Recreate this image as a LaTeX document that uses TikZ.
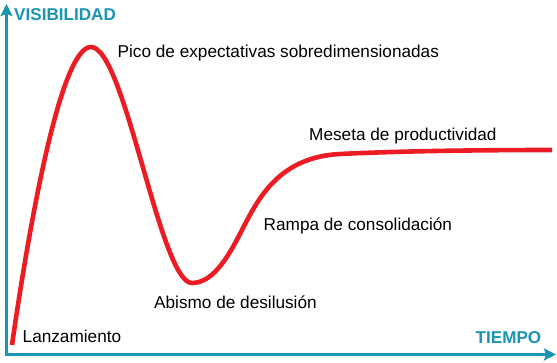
\documentclass[tikz,border=0pt]{standalone}
\usepackage{fontspec}
\setmainfont{Liberation Sans}
\usetikzlibrary{arrows.meta}
\definecolor{axisteal}{HTML}{1A95B1}
\definecolor{hyped}{HTML}{EC1C24}
\tikzset{
  axisline/.style={draw=axisteal, line width=3pt, -{Stealth[length=12pt,width=12pt,inset=2pt]}},
  axislabel/.style={text=axisteal, font=\fontsize{17.1}{19}\selectfont\bfseries, anchor=base west, inner sep=0pt},
  phase/.style={text=black, font=\fontsize{17.2}{19}\selectfont, anchor=base west, inner sep=0pt},
  hype/.style={draw=hyped, line width=4.6pt}
}
\begin{document}
\begin{tikzpicture}[x=1pt,y=-1pt]
\useasboundingbox (0,0) rectangle (557,362);
\coordinate (origin) at (6.5,354.5);
\coordinate (ytip) at (6.5,4);
\coordinate (xtip) at (556,354.5);
\draw[axisline] ([yshift=1.5pt]origin) -- (ytip);
\draw[axisline] ([xshift=-1.5pt]origin) -- (xtip);
\node[axislabel] (vis) at (14,20.5) {VISIBILIDAD};
\node[axislabel] (tiempo) at (475.5,343) {TIEMPO};
\coordinate (start) at (12,345);
\coordinate (peak) at (91,47);
\coordinate (trough) at (192,283);
\coordinate (ramp) at (243,228);
\coordinate (knee) at (340,154);
\coordinate (stop) at (552,150);
\draw[hype] (start) .. controls (30,220) and (61,47) .. (peak)
  .. controls (125,47) and (160,283) .. (trough)
  .. controls (215,283) and (231,251.4) .. (ramp)
  .. controls (259,197) and (280,157) .. (knee)
  .. controls (400,151) and (480,150) .. (stop);
\node[phase] (pico) at (117.5,57.3) {Pico de expectativas sobredimensionadas};
\node[phase] (meseta) at (309,140) {Meseta de productividad};
\node[phase] (rampa) at (263.5,230) {Rampa de consolidación};
\node[phase] (abismo) at (154,308) {Abismo de desilusión};
\node[phase] (lanz) at (22.5,342.7) {Lanzamiento};
\end{tikzpicture}
\end{document}
